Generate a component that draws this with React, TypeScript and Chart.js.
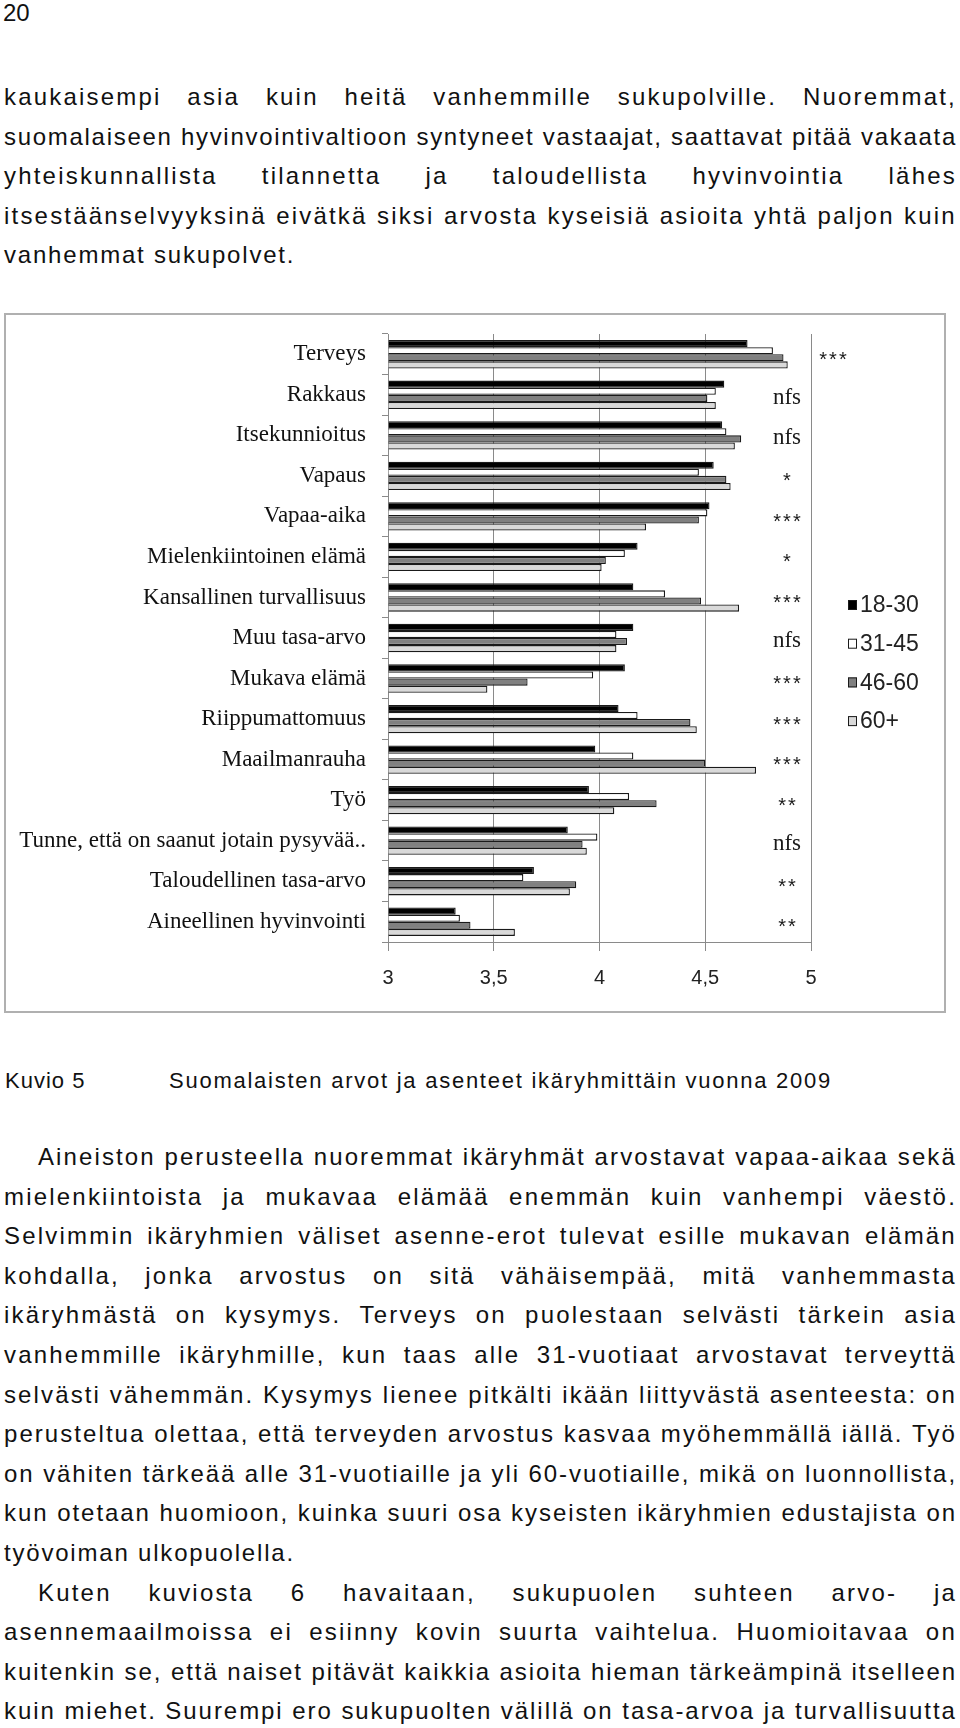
import React, { useEffect, useRef } from "react";
import { Chart, registerables } from "chart.js";

Chart.register(...registerables);

// ---------- DATA ----------
const categories = [
  "Terveys",
  "Rakkaus",
  "Itsekunnioitus",
  "Vapaus",
  "Vapaa-aika",
  "Mielenkiintoinen elämä",
  "Kansallinen turvallisuus",
  "Muu tasa-arvo",
  "Mukava elämä",
  "Riippumattomuus",
  "Maailmanrauha",
  "Työ",
  "Tunne, että on saanut jotain pysyvää..",
  "Taloudellinen tasa-arvo",
  "Aineellinen hyvinvointi",
];
const seriesNames = ["18-30", "31-45", "46-60", "60+"];
const age18to30 = [4.7, 4.59, 4.58, 4.54, 4.52, 4.18, 4.16, 4.16, 4.12, 4.09, 3.98, 3.95, 3.85, 3.69, 3.32];
const age31to45 = [4.82, 4.55, 4.6, 4.47, 4.51, 4.12, 4.31, 4.08, 3.97, 4.18, 4.16, 4.14, 3.99, 3.64, 3.34];
const age46to60 = [4.87, 4.51, 4.67, 4.6, 4.47, 4.03, 4.48, 4.13, 3.66, 4.43, 4.5, 4.27, 3.92, 3.89, 3.39];
const age60plus = [4.89, 4.55, 4.64, 4.62, 4.22, 4.01, 4.66, 4.08, 3.47, 4.46, 4.74, 4.07, 3.94, 3.86, 3.6];
const significance = ["***", "nfs", "nfs", "*", "***", "*", "***", "nfs", "***", "***", "***", "**", "nfs", "**", "**"];
const xTickLabels = ["3", "3,5", "4", "4,5", "5"];

const pageNumber = "20";
const paragraph1 = [
  "kaukaisempi asia kuin heitä vanhemmille sukupolville. Nuoremmat,",
  "suomalaiseen hyvinvointivaltioon syntyneet vastaajat, saattavat pitää vakaata",
  "yhteiskunnallista tilannetta ja taloudellista hyvinvointia lähes",
  "itsestäänselvyyksinä eivätkä siksi arvosta kyseisiä asioita yhtä paljon kuin",
  "vanhemmat sukupolvet.",
];
const captionLabel = "Kuvio 5";
const captionText = "Suomalaisten arvot ja asenteet ikäryhmittäin vuonna 2009";
const paragraph2 = [
  "Aineiston perusteella nuoremmat ikäryhmät arvostavat vapaa-aikaa sekä",
  "mielenkiintoista ja mukavaa elämää enemmän kuin vanhempi väestö.",
  "Selvimmin ikäryhmien väliset asenne-erot tulevat esille mukavan elämän",
  "kohdalla, jonka arvostus on sitä vähäisempää, mitä vanhemmasta",
  "ikäryhmästä on kysymys. Terveys on puolestaan selvästi tärkein asia",
  "vanhemmille ikäryhmille, kun taas alle 31-vuotiaat arvostavat terveyttä",
  "selvästi vähemmän. Kysymys lienee pitkälti ikään liittyvästä asenteesta: on",
  "perusteltua olettaa, että terveyden arvostus kasvaa myöhemmällä iällä. Työ",
  "on vähiten tärkeää alle 31-vuotiaille ja yli 60-vuotiaille, mikä on luonnollista,",
  "kun otetaan huomioon, kuinka suuri osa kyseisten ikäryhmien edustajista on",
  "työvoiman ulkopuolella.",
];
const paragraph3 = [
  "Kuten kuviosta 6 havaitaan, sukupuolen suhteen arvo- ja",
  "asennemaailmoissa ei esiinny kovin suurta vaihtelua. Huomioitavaa on",
  "kuitenkin se, että naiset pitävät kaikkia asioita hieman tärkeämpinä itselleen",
  "kuin miehet. Suurempi ero sukupuolten välillä on tasa-arvoa ja turvallisuutta",
];

// ---------- TEXT HELPERS ----------
const BODY_FONT = '"Liberation Sans", Arial, sans-serif';
const BODY_SIZE = 24;
const TEXT_LEFT = 4;
const TEXT_WIDTH = 953;
const LINE_GAP = 39.6;

let measureCtx: CanvasRenderingContext2D | null = null;
function textWidth(t: string, font: string): number {
  if (!measureCtx) measureCtx = document.createElement("canvas").getContext("2d");
  measureCtx!.font = font;
  return measureCtx!.measureText(t).width;
}

function TextLine(props: { text: string; top: number; left: number; width: number; justify: boolean; size: number }) {
  const { text, top, left, width, justify, size } = props;
  const font = `${size}px ${BODY_FONT}`;
  const w = textWidth(text, font);
  const n = text.length;
  const common: React.CSSProperties = {
    position: "absolute",
    left,
    top,
    fontFamily: BODY_FONT,
    fontSize: size,
    lineHeight: "30px",
    height: 30,
    whiteSpace: "nowrap",
    color: "#111",
  };
  if (justify) {
    const ls = Math.max(0, Math.min(2.2, (width - w) / n));
    const words = text.split(" ");
    return (
      <div style={{ ...common, width, display: "flex", justifyContent: "space-between", letterSpacing: ls }}>
        {words.map((wd, i) => (
          <span key={i}>{wd}</span>
        ))}
      </div>
    );
  }
  return <div style={{ ...common, letterSpacing: 1.8 }}>{text}</div>;
}

// ---------- CHART ----------
function BarChart() {
  const ref = useRef<HTMLCanvasElement | null>(null);
  useEffect(() => {
    if (!ref.current) return;
    const annotate = {
      id: "annotate",
      afterDatasetsDraw(chart: any) {
        const { ctx, chartArea, scales } = chart;
        const x = scales.x;
        const y = scales.y;
        ctx.save();
        significance.forEach((s, i) => {
          const cy = y.getPixelForValue(i);
          const maxV = Math.max(...chart.data.datasets.map((d: any) => d.data[i] as number));
          const cx = maxV > 4.8 ? x.getPixelForValue(5) + 22 : x.getPixelForValue(5) - 24;
          ctx.fillStyle = "#1a1a1a";
          ctx.textAlign = "center";
          ctx.textBaseline = "middle";
          if (s === "nfs") {
            ctx.font = '23px "Liberation Serif", serif';
            (ctx as any).letterSpacing = "0px";
            ctx.fillText(s, cx, cy + 3);
          } else {
            ctx.font = '20px "Liberation Sans", sans-serif';
            (ctx as any).letterSpacing = "2px";
            ctx.fillText(s, cx + 1, cy + 6);
          }
        });
        (ctx as any).letterSpacing = "0px";
        chart.data.datasets.forEach((ds: any, i: number) => {
          const ly = chartArea.top + 271 + i * 38.7;
          const lx = chartArea.right + 37;
          ctx.fillStyle = ds.backgroundColor;
          ctx.fillRect(lx, ly - 5, 9, 10);
          ctx.strokeStyle = "#1a1a1a";
          ctx.lineWidth = 1;
          ctx.strokeRect(lx + 0.5, ly - 4.5, 8, 9);
          ctx.fillStyle = "#222";
          ctx.font = '23px "Liberation Sans", sans-serif';
          ctx.textAlign = "left";
          ctx.textBaseline = "middle";
          ctx.fillText(ds.label, lx + 12, ly + 1);
        });
        ctx.restore();
      },
    };
    const colors = ["#000000", "#ffffff", "#808080", "#d9d9d9"];
    const series = [age18to30, age31to45, age46to60, age60plus];
    const chart = new Chart(ref.current, {
      type: "bar",
      data: {
        labels: categories,
        datasets: series.map((d, i) => ({
          label: seriesNames[i],
          data: d,
          backgroundColor: colors[i],
          borderColor: "#1a1a1a",
          borderWidth: 1.3,
          base: 3,
          categoryPercentage: 0.7,
          barPercentage: 1.0,
        })),
      },
      options: {
        indexAxis: "y",
        animation: false,
        responsive: false,
        maintainAspectRatio: false,
        devicePixelRatio: 1,
        layout: { padding: { top: 19, right: 133, bottom: 0, left: 0 } },
        plugins: { legend: { display: false }, tooltip: { enabled: false } },
        scales: {
          x: {
            type: "linear",
            min: 3,
            max: 5,
            ticks: {
              stepSize: 0.5,
              callback: (_v: any, i: number) => xTickLabels[i],
              font: { family: '"Liberation Sans", sans-serif', size: 20 },
              color: "#222",
              padding: 15,
              maxRotation: 0,
            },
            grid: { color: "#8a8a8a", lineWidth: 1, drawTicks: true, tickLength: 9 },
            border: { color: "#8a8a8a", width: 1 },
            afterFit: (s: any) => {
              s.height = 69;
              s.paddingLeft = 0;
              s.paddingRight = 0;
            },
          },
          y: {
            type: "category",
            ticks: {
              font: { family: '"Liberation Serif", serif', size: 23 },
              color: "#111",
              padding: 16,
              autoSkip: false,
            },
            grid: { drawOnChartArea: false, drawTicks: true, tickLength: 6, color: "#8a8a8a" },
            border: { color: "#8a8a8a", width: 1 },
            afterFit: (s: any) => {
              s.width = 382;
              s.paddingTop = 0;
              s.paddingBottom = 0;
            },
          },
        },
      } as any,
      plugins: [annotate],
    });
    return () => chart.destroy();
  }, []);
  return <canvas ref={ref} width={938} height={696} style={{ width: 938, height: 696, display: "block" }} />;
}

// ---------- PAGE ----------
export default function App() {
  const p1Top = 98 - 16;
  const p2Top = 1158 - 16;
  const p3Top = p2Top + paragraph2.length * LINE_GAP;
  const captionFont = `22px ${BODY_FONT}`;
  const capW = textWidth(captionText, captionFont);
  const capLs = Math.max(0, (663 - capW) / captionText.length);
  return (
    <div
      style={{
        position: "absolute",
        left: 0,
        top: 0,
        width: 960,
        height: 1728,
        background: "#fff",
        overflow: "hidden",
        fontFamily: BODY_FONT,
      }}
    >
      <div style={{ position: "absolute", left: 3, top: -2, fontSize: 24, lineHeight: "30px", color: "#111" }}>
        {pageNumber}
      </div>
      {paragraph1.map((t, i) => (
        <TextLine
          key={"a" + i}
          text={t}
          top={p1Top + i * 39.6}
          left={TEXT_LEFT}
          width={TEXT_WIDTH}
          justify={i < paragraph1.length - 1}
          size={BODY_SIZE}
        />
      ))}
      <div
        style={{
          position: "absolute",
          left: 4,
          top: 313,
          width: 942,
          height: 700,
          border: "2px solid #b0b0b0",
          boxSizing: "border-box",
          background: "#fff",
        }}
      >
        <BarChart />
      </div>
      <div style={{ position: "absolute", left: 5, top: 1066, fontSize: 22, lineHeight: "30px", color: "#111", letterSpacing: 1 }}>
        {captionLabel}
      </div>
      <div
        style={{
          position: "absolute",
          left: 169,
          top: 1066,
          fontSize: 22,
          lineHeight: "30px",
          color: "#111",
          letterSpacing: capLs,
          whiteSpace: "nowrap",
        }}
      >
        {captionText}
      </div>
      {paragraph2.map((t, i) => (
        <TextLine
          key={"b" + i}
          text={t}
          top={p2Top + i * LINE_GAP}
          left={i === 0 ? 38 : TEXT_LEFT}
          width={i === 0 ? TEXT_WIDTH - 34 : TEXT_WIDTH}
          justify={i < paragraph2.length - 1}
          size={BODY_SIZE}
        />
      ))}
      {paragraph3.map((t, i) => (
        <TextLine
          key={"c" + i}
          text={t}
          top={p3Top + i * LINE_GAP}
          left={i === 0 ? 38 : TEXT_LEFT}
          width={i === 0 ? TEXT_WIDTH - 34 : TEXT_WIDTH}
          justify={true}
          size={BODY_SIZE}
        />
      ))}
    </div>
  );
}
